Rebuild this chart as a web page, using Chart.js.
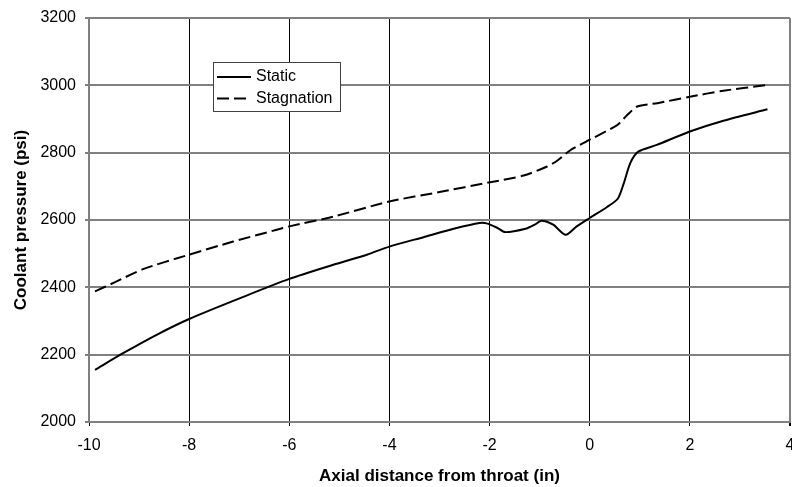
<!DOCTYPE html>
<html>
<head>
<meta charset="utf-8">
<script src="https://cdn.jsdelivr.net/npm/chart.js@4"></script>
<style>
    html, body { margin: 0; padding: 0; background: #fff; }
    #wrap { width: 792px; height: 487px; }
</style>
</head>
<body>
<div id="wrap"><canvas id="pressureChart"></canvas></div>
<script>
// axial distance (in) and pressure (psi)
const staticX = [-9.88, -9.31, -8.65, -8.0, -6.98, -6.0, -5.12, -4.45, -4.0, -3.32, -2.66, -2.2, -2.06, -1.85, -1.69, -1.26, -1.1, -0.96, -0.73, -0.48, -0.26, 0.0, 0.34, 0.56, 0.68, 0.81, 0.97, 1.34, 2.0, 2.67, 3.55];
const staticY = [2155, 2205, 2259, 2306, 2368, 2425, 2467, 2497, 2521, 2549, 2576, 2591, 2590, 2577, 2564, 2575, 2586, 2598, 2586, 2556, 2581, 2606, 2638, 2663, 2709, 2769, 2803, 2823, 2863, 2895, 2929];

const stagX = [-9.88, -9.5, -8.92, -8.0, -7.12, -6.25, -6.0, -5.12, -4.0, -3.0, -1.99, -1.32, -0.85, -0.65, -0.38, 0.02, 0.55, 0.75, 0.95, 1.35, 2.0, 2.67, 3.55];
const stagY = [2388, 2414, 2454, 2497, 2536, 2571, 2581, 2610, 2655, 2683, 2712, 2732, 2759, 2776, 2808, 2840, 2882, 2912, 2937, 2947, 2966, 2984, 3001];

const seriesNames = ['Static', 'Stagnation'];

const xTitle = 'Axial distance from throat (in)';
const yTitle = 'Coolant pressure (psi)';

const toPoints = (xs, ys) => xs.map((x, i) => ({x: x, y: ys[i]}));

const font = "'Liberation Sans', Arial, sans-serif";

// legend box inside the plot, like the original
const boxLegend = {
    id: 'boxLegend',
    afterDraw(chart) {
        const c = chart.ctx;
        const left = 213.5, top = 62.5, w = 127, h = 49;
        c.save();
        c.fillStyle = '#fff';
        c.fillRect(left, top, w, h);
        c.strokeStyle = '#404040';
        c.lineWidth = 1;
        c.strokeRect(left, top, w, h);
        c.font = '16px ' + font;
        c.textBaseline = 'middle';
        c.fillStyle = '#000';
        chart.data.datasets.forEach((ds, i) => {
            const y = 77 + i * 21.5;
            c.beginPath();
            c.setLineDash(ds.borderDash || []);
            c.strokeStyle = ds.borderColor;
            c.lineWidth = ds.borderWidth;
            c.moveTo(217, y);
            c.lineTo(251, y);
            c.stroke();
            c.setLineDash([]);
            c.fillText(ds.label, 256, y);
        });
        c.restore();
    }
};

new Chart(document.getElementById('pressureChart'), {
    type: 'line',
    data: {
        datasets: [{
                label: seriesNames[0],
                data: toPoints(staticX, staticY),
                borderColor: '#000',
                borderWidth: 2,
                pointRadius: 0,
                tension: 0.25,
                fill: false
            }, {
                label: seriesNames[1],
                data: toPoints(stagX, stagY),
                borderColor: '#000',
                borderWidth: 2,
                borderDash: [12, 5],
                pointRadius: 0,
                tension: 0.25,
                fill: false
            }]
    },
    options: {
        responsive: true,
        maintainAspectRatio: false,
        animation: false,
        layout: {
            padding: {top: 18, right: 2, left: 0, bottom: 0}
        },
        plugins: {
            legend: {display: false},
            tooltip: {enabled: false}
        },
        scales: {
            x: {
                type: 'linear',
                min: -10,
                max: 4,
                ticks: {
                    stepSize: 2,
                    color: '#000',
                    padding: 10,
                    font: {family: font, size: 16},
                    callback: (v) => String(v)
                },
                grid: {
                    color: (ctx) => ctx.tick && ctx.tick.value === 4 ? '#808080' : '#000',
                    lineWidth: (ctx) => ctx.tick && ctx.tick.value === 4 ? 2 : 1,
                    tickColor: '#000',
                    tickLength: 4
                },
                border: {color: '#808080', width: 2},
                title: {
                    display: true,
                    text: xTitle,
                    color: '#000',
                    padding: {top: 0, bottom: 0},
                    font: {family: font, size: 17, weight: 'bold'}
                },
                afterFit(scale) {
                    scale.height = 65;
                    scale.paddingLeft = 0;
                    scale.paddingRight = 0;
                }
            },
            y: {
                min: 2000,
                max: 3200,
                ticks: {
                    stepSize: 200,
                    color: '#000',
                    padding: 9,
                    font: {family: font, size: 16},
                    callback: (v) => String(v)
                },
                grid: {
                    color: '#808080',
                    lineWidth: 2,
                    tickColor: '#000',
                    tickWidth: 1,
                    tickLength: 4
                },
                border: {color: '#808080', width: 2},
                title: {
                    display: true,
                    text: yTitle,
                    color: '#000',
                    padding: {top: 11, bottom: 0},
                    font: {family: font, size: 17, weight: 'bold'}
                },
                afterFit(scale) {
                    scale.width = 89;
                    scale.paddingTop = 0;
                    scale.paddingBottom = 0;
                }
            }
        }
    },
    plugins: [boxLegend]
});
</script>
</body>
</html>
